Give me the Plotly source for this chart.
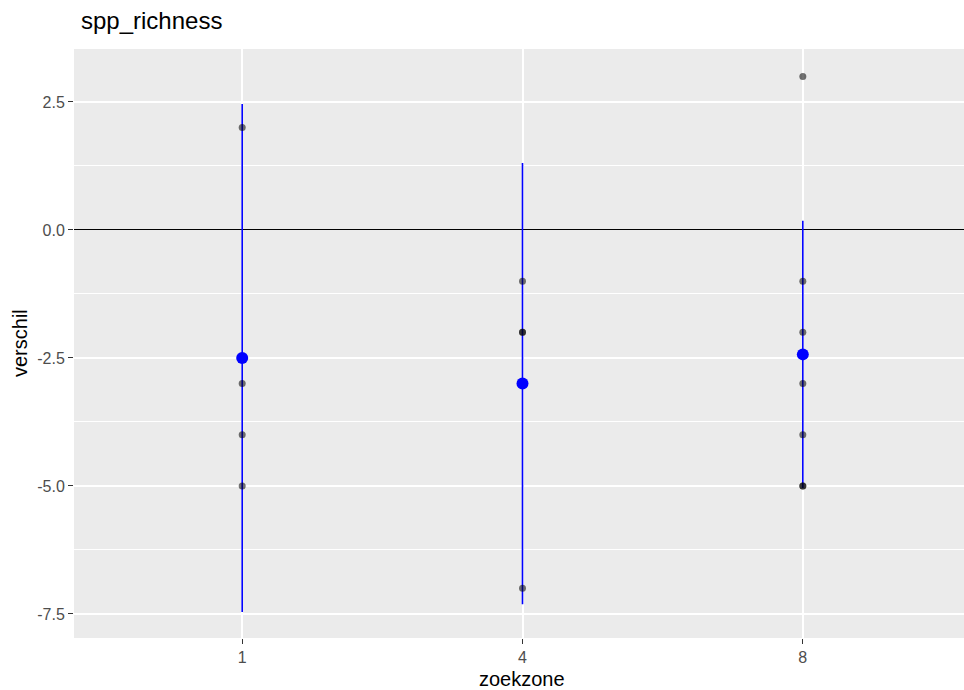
import plotly.graph_objects as go

# Data
zone_labels = ["1", "4", "8"]
zone1_vals = [2, -3, -4, -5]
zone4_vals = [-1, -2, -2, -7]
zone8_vals = [3, -1, -2, -3, -4, -5, -5]
means = [-2.5, -3.0, -2.43]
ci_low = [-7.46, -7.31, -5.04]
ci_high = [2.46, 1.31, 0.18]

W, H = 964, 690
L, R, T, B = 74, 0, 49, 52

fig = go.Figure()

# line ranges
lx, ly = [], []
for i in range(len(zone_labels)):
    lx += [i, i, None]
    ly += [ci_low[i], ci_high[i], None]
fig.add_trace(go.Scatter(x=lx, y=ly, mode="lines", line=dict(color="blue", width=1.6),
                         showlegend=False, hoverinfo="skip"))

# raw points
px, py = [], []
for i, vals in enumerate([zone1_vals, zone4_vals, zone8_vals]):
    px += [i] * len(vals)
    py += vals
fig.add_trace(go.Scatter(x=px, y=py, mode="markers",
                         marker=dict(color="rgba(0,0,0,0.55)", size=7, line=dict(width=0)),
                         showlegend=False, hoverinfo="skip"))

# means
fig.add_trace(go.Scatter(x=list(range(len(zone_labels))), y=means, mode="markers",
                         marker=dict(color="blue", size=12, line=dict(width=0)),
                         showlegend=False))

pw = W - L - R
ph = H - T - B

fig.update_layout(
    width=W, height=H,
    margin=dict(l=L, r=R, t=T, b=B, autoexpand=False),
    paper_bgcolor="white", plot_bgcolor="#EBEBEB",
    font=dict(family="Liberation Sans, Arial, sans-serif", color="#4D4D4D", size=16),
    title=dict(text="spp_richness", x=81 / W, xanchor="left", xref="container",
               y=1 - 21 / H, yanchor="middle", yref="container",
               font=dict(size=24, color="black")),
    xaxis=dict(range=[-0.6, 2.575], tickmode="array", tickvals=[0, 1, 2], ticktext=zone_labels,
               showgrid=True, gridcolor="white", gridwidth=1.6, zeroline=False,
               ticks="outside", ticklen=5, tickcolor="#333333", tickwidth=1.2,
               tickfont=dict(size=16, color="#4D4D4D"), showline=False),
    yaxis=dict(range=[-7.97, 3.535], tickmode="array", tickvals=[2.5, 0, -2.5, -5, -7.5],
               ticktext=["2.5", "0.0", "-2.5", "-5.0", "-7.5"],
               showgrid=True, gridcolor="white", gridwidth=1.6,
               minor=dict(tickvals=[1.25, -1.25, -3.75, -6.25], showgrid=True,
                          gridcolor="white", gridwidth=0.8, ticks=""),
               zeroline=True, zerolinecolor="black", zerolinewidth=1.3,
               ticks="outside", ticklen=5, tickcolor="#333333", tickwidth=1.2,
               tickfont=dict(size=16, color="#4D4D4D"), showline=False),
    annotations=[
        dict(text="zoekzone", x=(522 - L) / pw, y=(H - B - 679) / ph, xref="paper", yref="paper",
             xanchor="center", yanchor="middle", showarrow=False,
             font=dict(size=20, color="black")),
        dict(text="verschil", x=(20 - L) / pw, y=(H - B - 343) / ph, xref="paper", yref="paper",
             textangle=-90, xanchor="center", yanchor="middle", showarrow=False,
             font=dict(size=20, color="black")),
    ],
)

fig.write_html("out.html", config={"displayModeBar": False},
               post_script="document.body.style.margin='0';document.body.style.overflow='hidden';")
